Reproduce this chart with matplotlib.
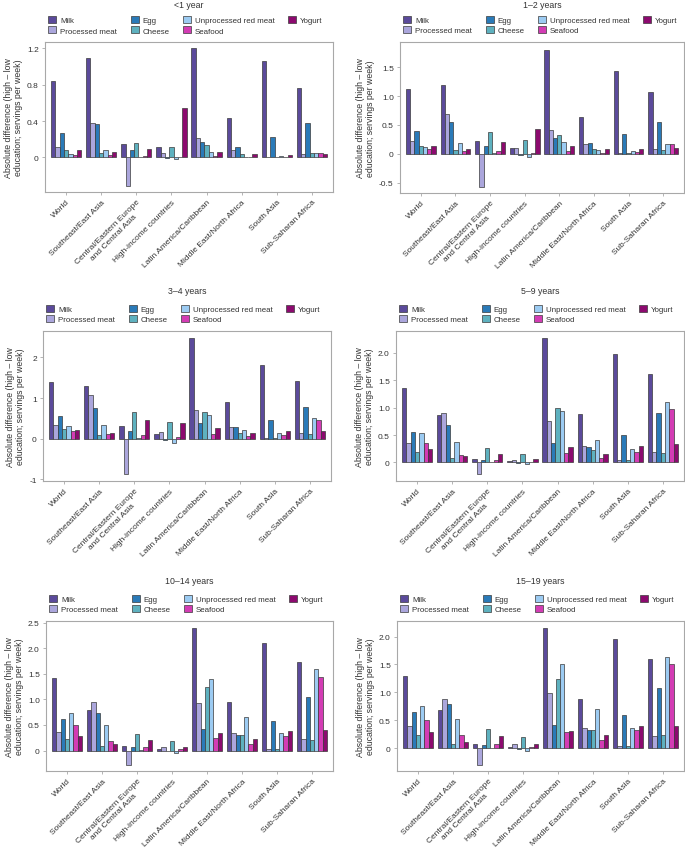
import numpy as np
import matplotlib
matplotlib.use('Agg')
import matplotlib.pyplot as plt

plt.rcParams['font.family'] = ['Liberation Sans', 'DejaVu Sans']

# categories
regions = ['World', 'Southeast/East Asia', 'Central/Eastern Europe\nand Central Asia',
           'High-income countries', 'Latin America/Caribbean', 'Middle East/North Africa',
           'South Asia', 'Sub-Saharan Africa']
foods = ['Milk', 'Processed meat', 'Egg', 'Cheese', 'Unprocessed red meat', 'Seafood', 'Yogurt']
colors = ['#5b4a9b', '#aba6dc', '#2a7ab8', '#5eb1bf', '#9ccbf2', '#d33cb4', '#8c0a6f']
ages = ['<1 year', '1\u20132 years', '3\u20134 years', '5\u20139 years', '10\u201314 years', '15\u201319 years']

# values per age group: rows = regions, cols = foods (same order as `foods`)
lt1 = [
    [0.84, 0.11, 0.27, 0.085, 0.04, 0.03, 0.077],
    [1.09, 0.38, 0.37, 0.05, 0.085, 0.03, 0.06],
    [0.15, -0.31, 0.077, 0.16, 0.005, 0.02, 0.09],
    [0.11, 0.05, -0.01, 0.12, -0.02, 0.01, 0.54],
    [1.20, 0.21, 0.17, 0.14, 0.06, 0.02, 0.06],
    [0.43, 0.085, 0.11, 0.04, 0.01, 0.01, 0.04],
    [1.06, 0.005, 0.23, 0.005, 0.02, 0.01, 0.03],
    [0.76, 0.04, 0.38, 0.05, 0.05, 0.05, 0.04],
]
y1_2 = [
    [1.12, 0.23, 0.40, 0.14, 0.12, 0.075, 0.13],
    [1.20, 0.69, 0.56, 0.07, 0.18, 0.05, 0.09],
    [0.23, -0.58, 0.13, 0.37, 0.01, 0.05, 0.21],
    [0.10, 0.10, -0.02, 0.24, -0.05, 0.02, 0.43],
    [1.80, 0.42, 0.27, 0.33, 0.21, 0.05, 0.14],
    [0.64, 0.17, 0.19, 0.09, 0.07, 0.02, 0.075],
    [1.43, 0.02, 0.34, 0.02, 0.05, 0.03, 0.09],
    [1.08, 0.09, 0.56, 0.07, 0.17, 0.17, 0.10],
]
y3_4 = [
    [1.385, 0.34, 0.55, 0.24, 0.31, 0.20, 0.21],
    [1.30, 1.07, 0.75, 0.09, 0.34, 0.12, 0.15],
    [0.32, -0.88, 0.19, 0.66, 0.03, 0.10, 0.45],
    [0.11, 0.16, -0.02, 0.41, -0.10, 0.04, 0.385],
    [2.49, 0.71, 0.385, 0.66, 0.58, 0.12, 0.26],
    [0.90, 0.29, 0.29, 0.15, 0.21, 0.06, 0.15],
    [1.82, 0.02, 0.46, 0.02, 0.13, 0.10, 0.18],
    [1.41, 0.14, 0.77, 0.11, 0.51, 0.47, 0.20],
]
y5_9 = [
    [1.36, 0.35, 0.55, 0.19, 0.53, 0.35, 0.24],
    [0.87, 0.91, 0.68, 0.08, 0.37, 0.14, 0.11],
    [0.07, -0.22, 0.04, 0.26, 0.005, 0.04, 0.16],
    [0.02, 0.04, -0.01, 0.15, -0.03, 0.01, 0.07],
    [2.27, 0.76, 0.35, 1.00, 0.93, 0.17, 0.29],
    [0.88, 0.30, 0.28, 0.23, 0.40, 0.08, 0.16],
    [1.98, 0.04, 0.50, 0.04, 0.24, 0.19, 0.30],
    [1.61, 0.19, 0.90, 0.18, 1.11, 0.98, 0.33],
]
y10_14 = [
    [1.42, 0.37, 0.62, 0.23, 0.74, 0.50, 0.29],
    [0.80, 0.94, 0.74, 0.08, 0.50, 0.19, 0.12],
    [0.08, -0.29, 0.06, 0.33, 0.005, 0.06, 0.21],
    [0.02, 0.06, -0.01, 0.18, -0.05, 0.02, 0.07],
    [2.40, 0.92, 0.42, 1.25, 1.40, 0.25, 0.35],
    [0.95, 0.35, 0.31, 0.31, 0.66, 0.13, 0.22],
    [2.10, 0.03, 0.57, 0.03, 0.34, 0.28, 0.39],
    [1.72, 0.22, 1.04, 0.21, 1.60, 1.44, 0.41],
]
y15_19 = [
    [1.30, 0.39, 0.64, 0.24, 0.76, 0.50, 0.29],
    [0.68, 0.875, 0.80, 0.08, 0.52, 0.23, 0.11],
    [0.08, -0.30, 0.065, 0.35, 0.005, 0.07, 0.22],
    [0.02, 0.08, -0.01, 0.20, -0.05, 0.02, 0.07],
    [2.16, 0.99, 0.42, 1.24, 1.51, 0.29, 0.31],
    [0.89, 0.36, 0.33, 0.33, 0.70, 0.15, 0.23],
    [1.96, 0.04, 0.60, 0.04, 0.36, 0.32, 0.39],
    [1.60, 0.22, 1.08, 0.24, 1.64, 1.50, 0.40],
]
panel_data = [lt1, y1_2, y3_4, y5_9, y10_14, y15_19]

# axis ticks and limits per panel
yticks = [
    [0, 0.4, 0.8, 1.2],
    [-0.5, 0, 0.5, 1.0, 1.5],
    [-1, 0, 1, 2],
    [0, 0.5, 1.0, 1.5, 2.0],
    [0, 0.5, 1.0, 1.5, 2.0, 2.5],
    [0, 0.5, 1.0, 1.5, 2.0],
]
ytick_labels = [
    ['0', '0.4', '0.8', '1.2'],
    ['-0.5', '0', '0.5', '1.0', '1.5'],
    ['-1', '0', '1', '2'],
    ['0', '0.5', '1.0', '1.5', '2.0'],
    ['0', '0.5', '1.0', '1.5', '2.0', '2.5'],
    ['0', '0.5', '1.0', '1.5', '2.0'],
]
ylims = [(-0.38, 1.27), (-0.68, 1.94), (-1.04, 2.65), (-0.34, 2.4), (-0.40, 2.53), (-0.41, 2.28)]

# axes boxes in pixels (left, top, right, bottom) and title heights
W, H = 685, 853
boxes = [
    (45, 43, 333, 193), (400, 43, 684, 194),
    (43, 332, 331, 482), (396, 332, 684, 482),
    (46, 622, 333, 772), (397, 622, 684, 772),
]
title_y = [5, 5, 292, 292, 582, 582]

FS = 6.0
frame_col = '#a8a8a8'
text_col = '#333333'

fig = plt.figure(figsize=(W / 100, H / 100), dpi=100)

x = np.arange(len(regions))
bw = 0.86 / len(foods)

for p in range(6):
    l, t, r, b = boxes[p]
    ax = fig.add_axes([l / W, 1 - b / H, (r - l) / W, (b - t) / H])
    vals = np.array(panel_data[p])
    handles = []
    for k, food in enumerate(foods):
        off = (k - (len(foods) - 1) / 2) * bw
        h = ax.bar(x + off, vals[:, k], width=bw, color=colors[k],
                   edgecolor='#3a3a3a', linewidth=0.5, label=food)
        handles.append(h)
    ax.set_xlim(-0.6, 7.6)
    ax.set_ylim(*ylims[p])
    ax.set_yticks(yticks[p])
    ax.set_yticklabels(ytick_labels[p])
    ax.set_xticks(x)
    ax.set_xticklabels(regions, rotation=45, ha='right', rotation_mode='anchor',
                       multialignment='center')
    ax.tick_params(axis='both', labelsize=FS, colors=frame_col, labelcolor=text_col,
                   length=2.5, width=0.6, pad=2)
    for s in ax.spines.values():
        s.set_color(frame_col)
        s.set_linewidth(0.8)
    ax.set_ylabel('Absolute difference (high \u2013 low\neducation; servings per week)',
                  fontsize=FS + 0.3, color=text_col, labelpad=3, linespacing=1.1)
    fig.text((l + r) / 2 / W, 1 - title_y[p] / H, ages[p], ha='center', va='center',
             fontsize=FS + 0.3, color=text_col)
    ax.legend(handles=handles, ncol=4, loc='lower left', bbox_to_anchor=(0.012, 1.05),
              frameon=False, fontsize=FS - 0.3, borderaxespad=0, borderpad=0,
              handlelength=1.0, handleheight=1.0, handletextpad=0.5,
              columnspacing=1.7, labelspacing=0.25, labelcolor=text_col)

fig.savefig('out.png', dpi=100)
